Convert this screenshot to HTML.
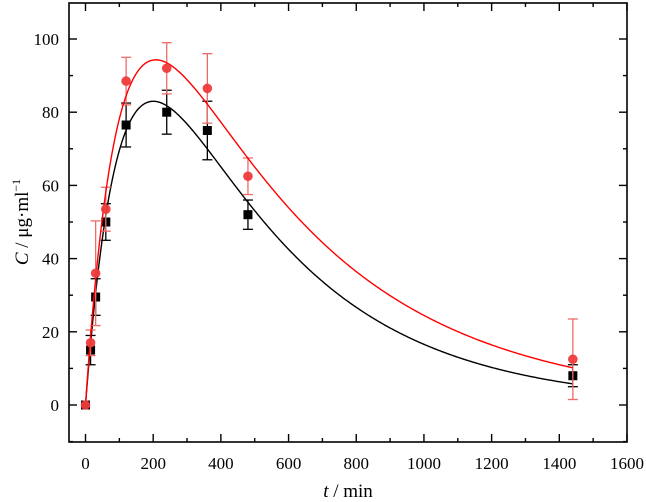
<!DOCTYPE html>
<html><head><meta charset="utf-8"><style>
body{margin:0;background:#fff}
svg{display:block;font-family:"Liberation Serif",serif}
</style></head><body>
<svg id="chart" width="646" height="502" viewBox="0 0 646 502"></svg>
<script>
const times=[0,15,30,60,120,240,360,480,1440];
const blackVals=[0,15,29.5,50,76.5,80,75,52,8];
const blackErr=[0,4,5,5,6,6,8,4,3];
const redVals=[0,17,36,53.5,88.5,92,86.5,62.5,12.5];
const redErr=[0,3.5,14.3,6,6.5,7,9.5,5,11];
const xTicks=[0,200,400,600,800,1000,1200,1400,1600];
const yTicks=[0,20,40,60,80,100];
const blackModel={A:183,ke:0.0024,ka:0.009};
const redModel={A:181,ke:0.002,ka:0.0095};

const NS="http://www.w3.org/2000/svg";
const svg=document.getElementById('chart');
const L=69,R=627,T=3,B=442;
const X=v=>85.5+(v)*(627-85.5)/1600;
const Y=v=>405-v*3.66;
function el(tag,attrs,parent){const e=document.createElementNS(NS,tag);for(const k in attrs)e.setAttribute(k,attrs[k]);(parent||svg).appendChild(e);return e;}

const frame=el('rect',{x:L,y:T,width:R-L,height:B-T,fill:'none',stroke:'#000','stroke-width':1.6});



for(let v=0;v<=1600;v+=100){
  const major=v%200===0,len=major?8:4,x=X(v);
  const t1=el('line',{x1:x,y1:B,x2:x,y2:B-len,stroke:'#000','stroke-width':1.4});
  
  
  const t2=el('line',{x1:x,y1:T,x2:x,y2:T+len,stroke:'#000','stroke-width':1.4});
  
  
}
xTicks.forEach(v=>{
  const t=el('text',{x:X(v),y:B+27,'text-anchor':'middle','font-size':17});
  t.textContent=v;
  
  
});
for(let v=-10;v<=110;v+=10){
  const major=v%20===0,len=major?8:4,y=Y(v);
  if(y<T||y>B)continue;
  const t1=el('line',{x1:L,y1:y,x2:L+len,y2:y,stroke:'#000','stroke-width':1.4});
  
  
  const t2=el('line',{x1:R,y1:y,x2:R-len,y2:y,stroke:'#000','stroke-width':1.4});
  
  
}
yTicks.forEach(v=>{
  const t=el('text',{x:L-10,y:Y(v)+6,'text-anchor':'end','font-size':17});
  t.textContent=v;
  
  
});

const xl=el('text',{x:348,y:497,'text-anchor':'middle','font-size':19});
xl.innerHTML='<tspan font-style="italic">t</tspan> / min';


const yl=el('text',{x:0,y:0,'text-anchor':'middle','font-size':19,transform:'translate(28,222) rotate(-90)'});
yl.innerHTML='<tspan font-style="italic">C</tspan> / μg·ml<tspan dy="-8" font-size="12">−1</tspan>';



function curve(m,color,name){
  let d='';
  for(let t=0;t<=1440;t+=4){const c=m.A*(Math.exp(-m.ke*t)-Math.exp(-m.ka*t));d+=(t?'L':'M')+X(t).toFixed(2)+','+Y(c).toFixed(2);}
  const p=el('path',{d:d,fill:'none',stroke:color,'stroke-width':1.4});
  
  
}
function errs(vals,err,color,name){
  times.forEach((t,i)=>{
    if(!err[i])return;
    const x=X(t),y1=Y(vals[i]+err[i]),y2=Y(vals[i]-err[i]);
    const g=el('g',{stroke:color,'stroke-width':1.3});
    
    
    el('line',{x1:x,y1:y1,x2:x,y2:y2},g);
    el('line',{x1:x-5,y1:y1,x2:x+5,y2:y1},g);
    el('line',{x1:x-5,y1:y2,x2:x+5,y2:y2},g);
  });
}
errs(blackVals,blackErr,'#000','black-error-bar');
curve(blackModel,'#000','black-fit-curve');
times.forEach((t,i)=>{
  const r=el('rect',{x:X(t)-4.5,y:Y(blackVals[i])-4.5,width:9,height:9,fill:'#000'});
  
  
});
errs(redVals,redErr,'#f06a6a','red-error-bar');
curve(redModel,'#ff0000','red-fit-curve');
times.forEach((t,i)=>{
  const c=el('circle',{cx:X(t),cy:Y(redVals[i]),r:4.8,fill:'#ee3b3b','fill-opacity':0.95});
  
  
});
</script>
</body></html>
